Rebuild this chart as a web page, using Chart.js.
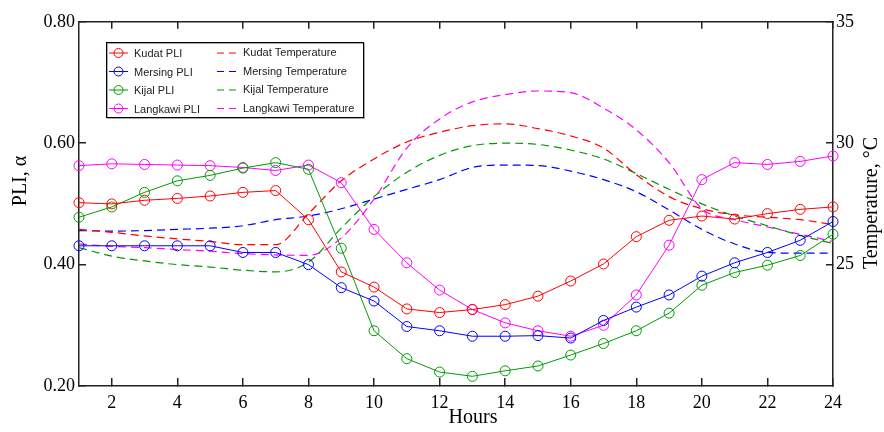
<!DOCTYPE html>
<html>
<head>
<meta charset="utf-8">
<script src="https://cdn.jsdelivr.net/npm/chart.js@4.4.0/dist/chart.umd.min.js"></script>
<style>
  html, body { margin: 0; padding: 0; background: #fff; }
</style>
</head>
<body>
<canvas id="pliChart" width="884" height="432"></canvas>
<script>
// hours of the day
const hours = [1, 2, 3, 4, 5, 6, 7, 8, 9, 10, 11, 12, 13, 14, 15, 16, 17, 18, 19, 20, 21, 22, 23, 24];
const hourTicks = [2, 4, 6, 8, 10, 12, 14, 16, 18, 20, 22, 24];
const pliTicks = [0.2, 0.4, 0.6, 0.8];
const tempTicks = [25, 30, 35];

// PLI, alpha (left axis)
const kudatPli = [0.502, 0.500, 0.506, 0.509, 0.513, 0.519, 0.522, 0.474, 0.388, 0.363, 0.327, 0.321, 0.326, 0.334, 0.348, 0.373, 0.401, 0.446, 0.473, 0.480, 0.475, 0.484, 0.491, 0.495];
const mersingPli = [0.431, 0.431, 0.431, 0.431, 0.431, 0.420, 0.420, 0.400, 0.362, 0.340, 0.298, 0.291, 0.282, 0.282, 0.283, 0.279, 0.308, 0.330, 0.350, 0.381, 0.403, 0.420, 0.440, 0.471];
const kijalPli = [0.478, 0.495, 0.519, 0.538, 0.547, 0.559, 0.568, 0.557, 0.427, 0.291, 0.245, 0.223, 0.216, 0.225, 0.233, 0.251, 0.270, 0.291, 0.320, 0.366, 0.387, 0.399, 0.415, 0.450];
const langkawiPli = [0.563, 0.566, 0.565, 0.564, 0.563, 0.560, 0.555, 0.564, 0.535, 0.458, 0.403, 0.358, 0.326, 0.304, 0.291, 0.282, 0.300, 0.350, 0.432, 0.540, 0.568, 0.565, 0.570, 0.579];

// temperature, deg C (right axis)
const kudatTemp = [26.45, 26.33, 26.18, 26.06, 25.95, 25.82, 25.82, 27.1, 28.45, 29.35, 30.05, 30.45, 30.72, 30.8, 30.6, 30.3, 29.8, 28.7, 27.8, 27.3, 27.05, 26.95, 26.85, 26.65];
const mersingTemp = [26.4, 26.38, 26.4, 26.45, 26.5, 26.6, 26.85, 27.0, 27.3, 27.7, 28.1, 28.5, 29.0, 29.1, 29.08, 28.85, 28.5, 28.0, 27.25, 26.45, 25.85, 25.5, 25.47, 25.47];
const kijalTemp = [25.7, 25.35, 25.15, 25.0, 24.9, 24.77, 24.7, 25.1, 26.5, 27.8, 28.8, 29.5, 29.9, 30.0, 29.95, 29.72, 29.35, 28.75, 28.1, 27.5, 27.0, 26.6, 26.2, 25.87];
const langkawiTemp = [25.85, 25.75, 25.7, 25.62, 25.55, 25.45, 25.4, 25.38, 26.1, 27.7, 29.8, 31.0, 31.7, 32.0, 32.15, 32.08, 31.45, 30.55, 29.2, 27.3, 26.85, 26.55, 26.25, 25.95];

const RED = '#ff0000', BLUE = '#0000ff', GREEN = '#009a00', MAGENTA = '#ff00ff';
const AXIS = '#222';

function pliSet(label, data, color) {
    return {
        label: label, data: data, yAxisID: 'y',
        borderColor: color, backgroundColor: 'rgba(0,0,0,0)',
        borderWidth: 1, pointRadius: 5, pointBorderWidth: 1,
        pointBorderColor: color, pointBackgroundColor: 'rgba(0,0,0,0)',
        tension: 0, clip: false
    };
}
function tempSet(label, data, color) {
    return {
        label: label, data: data, yAxisID: 'y2',
        borderColor: color, borderWidth: 1.2, borderDash: [8, 5],
        pointRadius: 0, cubicInterpolationMode: 'monotone', clip: false
    };
}

// legend box + axis titles
const extras = {
    id: 'extras',
    afterDraw(chart) {
        const ctx = chart.ctx;
        const ds = chart.data.datasets;
        ctx.save();
        // legend frame
        ctx.fillStyle = '#fff';
        ctx.fillRect(106, 42, 257, 75);
        ctx.strokeStyle = '#aaa';
        ctx.lineWidth = 1;
        ctx.strokeRect(107.5, 43.5, 257, 75);
        ctx.strokeStyle = '#000';
        ctx.strokeRect(106.5, 42.5, 257, 75);
        const rows = [53, 71.5, 90, 108.5];
        ctx.font = '11px "Liberation Sans", Arial, sans-serif';
        ctx.textBaseline = 'middle';
        ctx.textAlign = 'left';
        for (let i = 0; i < 4; i++) {
            const p = ds[i], t = ds[i + 4], y = rows[i];
            ctx.strokeStyle = p.borderColor;
            ctx.setLineDash([]);
            ctx.beginPath(); ctx.moveTo(109, y); ctx.lineTo(128, y); ctx.stroke();
            ctx.beginPath(); ctx.arc(118.5, y, 4.5, 0, Math.PI * 2); ctx.stroke();
            ctx.fillStyle = '#222';
            ctx.fillText(p.label, 134, y + 1);
            ctx.strokeStyle = t.borderColor;
            ctx.setLineDash([7, 5]);
            ctx.beginPath(); ctx.moveTo(217, y); ctx.lineTo(238, y); ctx.stroke();
            ctx.setLineDash([]);
            ctx.fillText(t.label, 243, y);
        }
        // axis titles
        ctx.fillStyle = '#000';
        ctx.font = '20px "Liberation Serif", "Times New Roman", serif';
        ctx.textAlign = 'center';
        ctx.textBaseline = 'middle';
        ctx.fillText('Hours', 473, 418);
        ctx.save();
        ctx.translate(21, 181);
        ctx.rotate(-Math.PI / 2);
        ctx.fillText('PLI, α', 0, 0);
        ctx.restore();
        ctx.save();
        ctx.translate(872, 203);
        ctx.rotate(-Math.PI / 2);
        ctx.fillText('Temperature, °C', 0, 0);
        ctx.restore();
        ctx.restore();
    }
};

const tickFont = { family: '"Liberation Serif", "Times New Roman", serif', size: 18 };

new Chart(document.getElementById('pliChart'), {
    type: 'line',
    data: {
        labels: hours,
        datasets: [
            pliSet('Kudat PLI', kudatPli, RED),
            pliSet('Mersing PLI', mersingPli, BLUE),
            pliSet('Kijal PLI', kijalPli, GREEN),
            pliSet('Langkawi PLI', langkawiPli, MAGENTA),
            tempSet('Kudat Temperature', kudatTemp, RED),
            tempSet('Mersing Temperature', mersingTemp, BLUE),
            tempSet('Kijal Temperature', kijalTemp, GREEN),
            tempSet('Langkawi Temperature', langkawiTemp, MAGENTA)
        ]
    },
    options: {
        responsive: false,
        animation: false,
        layout: { padding: 0 },
        plugins: { legend: { display: false }, tooltip: { enabled: false } },
        scales: {
            x: {
                type: 'linear', position: 'bottom', min: 1, max: 24,
                afterBuildTicks: (s) => { s.ticks = hourTicks.map(v => ({ value: v })); },
                afterFit: (s) => { s.height = 46; },
                grid: { drawOnChartArea: false, tickLength: -8, color: AXIS, lineWidth: 1.5 },
                border: { color: AXIS, width: 1.5 },
                ticks: { font: tickFont, color: '#000', padding: 14, maxRotation: 0 }
            },
            x2: {
                type: 'linear', axis: 'x', position: 'top', min: 1, max: 24,
                afterBuildTicks: (s) => { s.ticks = hourTicks.map(v => ({ value: v })); },
                afterFit: (s) => { s.height = 18; },
                grid: { drawOnChartArea: false, tickLength: -7, color: AXIS, lineWidth: 1.5 },
                border: { color: AXIS, width: 1.5 },
                ticks: { callback: () => '' }
            },
            y: {
                position: 'left', min: 0.2, max: 0.8,
                afterBuildTicks: (s) => { s.ticks = pliTicks.map(v => ({ value: v })); },
                afterFit: (s) => { s.width = 79; },
                grid: { drawOnChartArea: false, tickLength: -7, color: AXIS, lineWidth: 1.5 },
                border: { color: AXIS, width: 1.5 },
                ticks: { font: tickFont, color: '#000', padding: 11, callback: (v) => v.toFixed(2) }
            },
            y2: {
                position: 'right', min: 20, max: 35,
                afterBuildTicks: (s) => { s.ticks = tempTicks.map(v => ({ value: v })); },
                afterFit: (s) => { s.width = 51; },
                grid: { drawOnChartArea: false, tickLength: -7, color: AXIS, lineWidth: 1.5 },
                border: { color: AXIS, width: 1.5 },
                ticks: { font: tickFont, color: '#000', padding: 10 }
            }
        }
    },
    plugins: [extras]
});
</script>
</body>
</html>
